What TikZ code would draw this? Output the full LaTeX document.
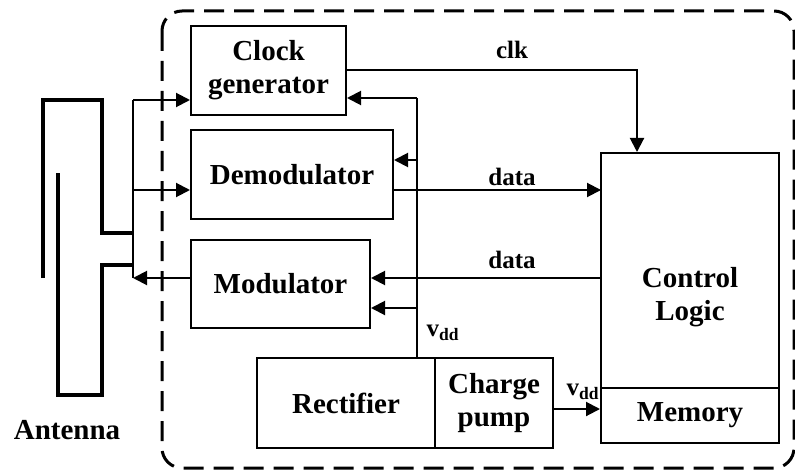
\documentclass[tikz,border=0pt]{standalone}
\usepackage{fontspec}
\setmainfont{Liberation Serif}
\usepackage{tikz}
\usetikzlibrary{arrows.meta, positioning, calc}

\begin{document}
\begin{tikzpicture}[
        x=0.5pt, y=-0.5pt,
        block/.style={rectangle, draw, line width=1pt, inner sep=0pt, align=center, font=\bfseries\fontsize{14.5}{16.5}\selectfont},
        tag/.style={font=\bfseries\fontsize{12.5}{14}\selectfont},
        arrow/.style={-{Triangle[length=7pt,width=7pt]}, line width=1pt},
        wire/.style={line width=1pt},
        antenna/.style={line width=2pt}
    ]
        \useasboundingbox (0,0) rectangle (795,470);
        \draw[line width=1.5pt, dash pattern=on 10pt off 5pt, rounded corners=10pt] (162,11) rectangle (794,468);

        \node[block, minimum width=77.5pt, minimum height=44.5pt] (clock) at (268.5,70.5) {Clock\\generator};
        \node[block, minimum width=101pt, minimum height=44.5pt] (demod) at (292,174.5) {Demodulator};
        \node[block, minimum width=89.5pt, minimum height=44pt] (mod) at (280.5,284) {Modulator};
        \node[block, minimum width=89pt, minimum height=45pt] (rect) at (346,403) {Rectifier};
        \node[block, minimum width=59pt, minimum height=45pt] (pump) at (494,403) {Charge\\pump};
        \node[block, minimum width=89pt, minimum height=117.5pt,
              label={[yshift=-13.5pt, align=center, font=\bfseries\fontsize{14.5}{16.5}\selectfont]center:Control\\Logic}] (ctrl) at (690,270.5) {};
        \node[block, minimum width=89pt, minimum height=27.5pt] (mem) at (690,415.5) {Memory};
        \node[font=\bfseries\fontsize{14.5}{16.5}\selectfont] (antlabel) at (67,430) {Antenna};

        \draw[antenna] (43,278) -- (43,100) -- (102,100) -- (102,233) -- (133,233);
        \draw[antenna] (133,265) -- (102,265) -- (102,395) -- (58,395) -- (58,173);

        \coordinate (feedtop) at (133,100);
        \coordinate (feedmid) at (133,190);
        \coordinate (feedbot) at (133,278);
        \draw[wire] (feedtop) -- (feedbot);
        \draw[arrow] (feedtop) -- (feedtop -| clock.west);
        \draw[arrow] (feedmid) -- (feedmid -| demod.west);
        \draw[arrow] (feedbot -| mod.west) -- (feedbot);

        \coordinate (bustop) at (417,98);
        \coordinate (busdem) at (417,160);
        \coordinate (busmod) at (417,308);
        \draw[wire] (bustop) -- (bustop |- rect.north);
        \draw[arrow] (bustop) -- (bustop -| clock.east);
        \draw[arrow] (busdem) -- (busdem -| demod.east);
        \draw[arrow] (busmod) -- (busmod -| mod.east);

        \coordinate (datain) at (601,190);
        \coordinate (dataout) at (601,278);
        \draw[arrow] (datain -| demod.east) -- (datain);
        \draw[arrow] (dataout) -- (dataout -| mod.east);
        \draw[arrow] (clock.east) -| ($(ctrl.north)+(-53,0)$);

        \coordinate (pumpout) at ($(pump.east)+(0,6)$);
        \draw[arrow] (pumpout) -- (pumpout -| mem.west);

        \node[tag] (clklabel) at (512,50) {clk};
        \node[tag] (datalabel1) at (512,177) {data};
        \node[tag] (datalabel2) at (512,260) {data};
        \node[tag] (vddlabel1) at (443,333) {v\textsubscript{dd}};
        \node[tag] (vddlabel2) at (583,392) {v\textsubscript{dd}};
    \end{tikzpicture}
\end{document}
